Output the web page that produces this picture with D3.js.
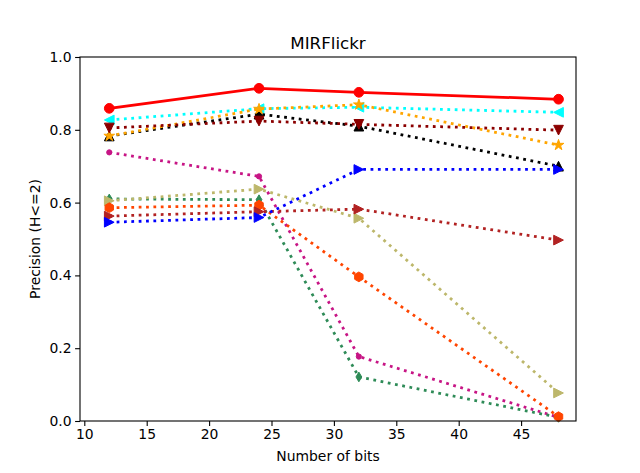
<!DOCTYPE html>
<html>
<head>
<meta charset="utf-8">
<script src="https://cdn.jsdelivr.net/npm/d3@7"></script>
<style>
body { margin: 0; background: #fff; }
text { font-family: "DejaVu Sans", sans-serif; fill: #000; }
</style>
</head>
<body>
<svg id="chart" width="640" height="473"></svg>
<script>
var bits = [12, 24, 32, 48]
var yTicks = [0.0, 0.2, 0.4, 0.6, 0.8, 1.0]
var xTicks = [10, 15, 20, 25, 30, 35, 40, 45]

// one array per method
var redVals = [0.859, 0.914, 0.903, 0.884]
var cyanVals = [0.827, 0.858, 0.862, 0.848]
var blackVals = [0.783, 0.843, 0.810, 0.700]
var orangeVals = [0.783, 0.857, 0.869, 0.758]
var maroonVals = [0.805, 0.824, 0.815, 0.799]
var violetVals = [0.738, 0.672, 0.177, 0.010]
var greenVals = [0.610, 0.608, 0.121, 0.010]
var khakiVals = [0.605, 0.637, 0.557, 0.077]
var orangeredVals = [0.586, 0.593, 0.396, 0.012]
var firebrickVals = [0.563, 0.575, 0.582, 0.497]
var blueVals = [0.546, 0.559, 0.691, 0.691]

var seriesColors = ["red", "cyan", "black", "orange", "darkred", "mediumvioletred", "seagreen", "darkkhaki", "orangered", "firebrick", "blue"]
var seriesMarkers = ["o", "<", "^", "*", "v", ".", "d", ">", "h", ">", ">"]
var seriesStyles = ["-", ":", ":", ":", ":", ":", ":", ":", ":", ":", ":"]
var seriesValues = [redVals, cyanVals, blackVals, orangeVals, maroonVals, violetVals, greenVals, khakiVals, orangeredVals, firebrickVals, blueVals]

var svg = d3.select("#chart")
var axLeft = 80, axRight = 576, axTop = 57, axBottom = 421

var x = d3.scaleLinear().domain([9.655, 49.4]).range([axLeft, axRight])
var y = d3.scaleLinear().domain([0, 1]).range([axBottom, axTop])

var lw = 2.78
var ms = 9.7

function markerPath(m, r) {
    var pts = []
    if (m == "^") pts = [[0, -r], [r, r], [-r, r]]
    if (m == "v") pts = [[0, r], [r, -r], [-r, -r]]
    if (m == "<") pts = [[-r, 0], [r, -r], [r, r]]
    if (m == ">") pts = [[r, 0], [-r, -r], [-r, r]]
    if (m == "d") pts = [[0, -r], [0.6 * r, 0], [0, r], [-0.6 * r, 0]]
    if (m == "*") {
        for (var k = 0; k < 10; k++) {
            var a = -Math.PI / 2 + k * Math.PI / 5
            var rr = k % 2 == 0 ? r : r * 0.382
            pts.push([rr * Math.cos(a), rr * Math.sin(a)])
        }
    }
    if (m == "h") {
        for (var k = 0; k < 6; k++) {
            var a = -Math.PI / 2 + k * Math.PI / 3
            pts.push([r * Math.cos(a), r * Math.sin(a)])
        }
    }
    return "M" + pts.map(function (p) { return p[0].toFixed(2) + "," + p[1].toFixed(2) }).join("L") + "Z"
}

var line = d3.line()
    .x(function (d, i) { return x(bits[i]) })
    .y(function (d) { return y(d) })

var plot = svg.append("g")

seriesValues.forEach(function (vals, s) {
    var g = plot.append("g")
    g.append("path")
        .datum(vals)
        .attr("d", line)
        .attr("fill", "none")
        .attr("stroke", seriesColors[s])
        .attr("stroke-width", lw)
        .attr("stroke-dasharray", seriesStyles[s] == ":" ? "2.78,4.58" : null)
        .attr("stroke-linecap", seriesStyles[s] == ":" ? "butt" : "square")
        .attr("stroke-linejoin", "round")

    vals.forEach(function (v, i) {
        var cx = x(bits[i]), cy = y(v)
        var m = seriesMarkers[s]
        if (m == "o" || m == ".") {
            g.append("circle")
                .attr("cx", cx).attr("cy", cy)
                .attr("r", m == "o" ? ms / 2 : 2.6)
                .attr("fill", seriesColors[s])
                .attr("stroke", seriesColors[s])
                .attr("stroke-width", 1)
        } else {
            g.append("path")
                .attr("transform", "translate(" + cx + "," + cy + ")")
                .attr("d", markerPath(m, m == "*" ? ms / 2 + 0.8 : ms / 2))
                .attr("fill", seriesColors[s])
                .attr("stroke", seriesColors[s])
                .attr("stroke-width", 1)
                .attr("stroke-linejoin", "miter")
        }
    })
})

// axes
var xAxis = d3.axisBottom(x).tickValues(xTicks).tickSize(4.9).tickPadding(3.5).tickFormat(d3.format("d"))
var yAxis = d3.axisLeft(y).tickValues(yTicks).tickSize(4.9).tickPadding(3.5).tickFormat(d3.format(".1f"))

var gx = svg.append("g").attr("transform", "translate(0," + axBottom + ")").call(xAxis)
var gy = svg.append("g").attr("transform", "translate(" + axLeft + ",0)").call(yAxis)

;[gx, gy].forEach(function (g) {
    g.select(".domain").remove()
    g.selectAll("line").attr("stroke", "#000").attr("stroke-width", 1.1)
    g.selectAll("text").attr("font-size", "13.9px").attr("fill", "#000").attr("font-family", "DejaVu Sans")
})

svg.append("rect")
    .attr("x", axLeft).attr("y", axTop)
    .attr("width", axRight - axLeft).attr("height", axBottom - axTop)
    .attr("fill", "none").attr("stroke", "#000").attr("stroke-width", 1.1)

svg.append("text")
    .attr("x", (axLeft + axRight) / 2).attr("y", 49)
    .attr("text-anchor", "middle")
    .attr("font-size", "16.7px")
    .text("MIRFlickr")

svg.append("text")
    .attr("x", (axLeft + axRight) / 2).attr("y", 461)
    .attr("text-anchor", "middle")
    .attr("font-size", "13.9px")
    .text("Number of bits")

svg.append("text")
    .attr("transform", "translate(40," + (axTop + axBottom) / 2 + ") rotate(-90)")
    .attr("text-anchor", "middle")
    .attr("font-size", "13.9px")
    .text("Precision (H<=2)")
</script>
</body>
</html>
